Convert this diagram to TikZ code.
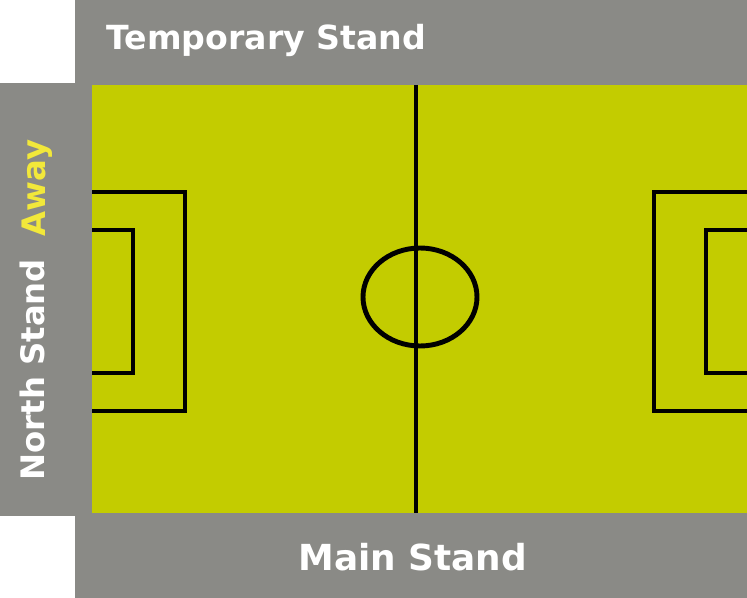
\documentclass[tikz,border=0pt]{standalone}
\usepackage{fontspec}
\setmainfont{DejaVu Sans}
\usepackage{xcolor}
\definecolor{standgray}{HTML}{8A8A86}
\definecolor{pitchgreen}{HTML}{C3CC00}
\definecolor{awayyellow}{HTML}{F2E83A}

\begin{document}
\begin{tikzpicture}[x=0.02cm,y=-0.02cm,
    standlabel/.style={text=white, font=\bfseries, inner sep=0pt},
    boxline/.style={line width=2.8pt, line join=miter},
    thinbox/.style={line width=2.1pt, line join=miter}]

        \useasboundingbox (0,0) rectangle (747,598);

        % Stands (gray) with the white corners left open
        \fill[standgray] (0,0) rectangle (747,598);
        \fill[white] (0,0) rectangle (75,83);
        \fill[white] (0,516) rectangle (75,598);

        % Pitch
        \fill[pitchgreen] (92,85) rectangle (747,513);

        % Halfway line and centre circle
        \draw[boxline] (416,85) -- (416,513);
        \draw[boxline] (420,297) ellipse (57 and 49);

        % Penalty and goal areas, left and right
        \foreach \gx/\dx in {92/1, 747/-1} {
            \draw[boxline] (\gx,192) -- ({\gx+93*\dx},192) -- ({\gx+93*\dx},411) -- (\gx,411);
            \draw[thinbox] (\gx,230) -- ({\gx+41*\dx},230) -- ({\gx+41*\dx},373) -- (\gx,373);
        }

        % Stand names
        \node[standlabel, font=\fontsize{18.9}{20}\bfseries\selectfont, anchor=base west] (temp) at (106,50) {Temporary Stand};
        \node[standlabel, font=\fontsize{20.4}{22}\bfseries\selectfont, anchor=base west] (main) at (298,570) {Main Stand};
        \node[standlabel, font=\fontsize{18.4}{20}\bfseries\selectfont, rotate=90, anchor=base west] (north) at (44,481) {North Stand};
        \node[standlabel, text=awayyellow, font=\fontsize{18.4}{20}\bfseries\selectfont, rotate=90, anchor=base west] (away) at (45,237) {Away};

\end{tikzpicture}
\end{document}
